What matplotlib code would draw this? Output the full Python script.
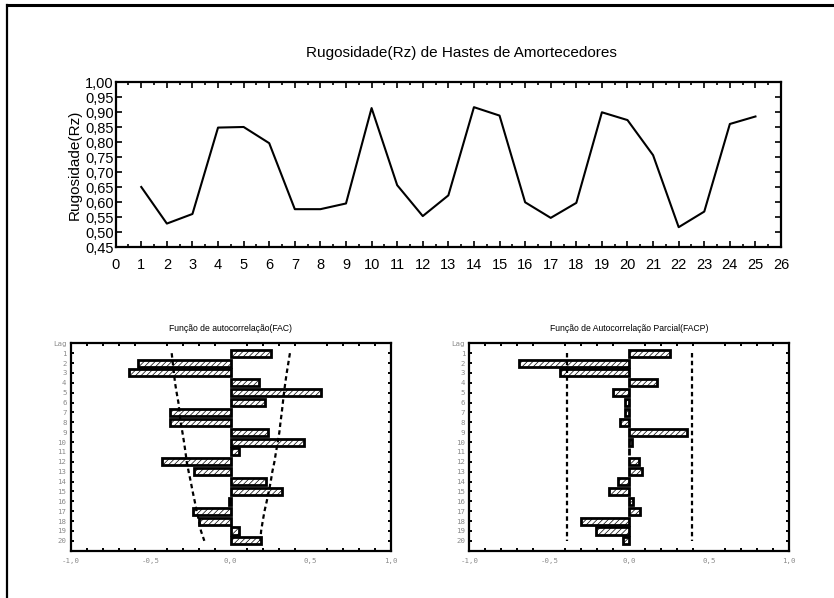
import matplotlib
matplotlib.use('Agg')
import matplotlib.pyplot as plt
from matplotlib.lines import Line2D
from matplotlib.ticker import MultipleLocator, FuncFormatter

# Rugosidade (Rz) medida em 25 hastes
amostra = list(range(1, 26))
rz = [0.651, 0.529, 0.561, 0.849, 0.851, 0.797, 0.577, 0.577, 0.596, 0.914,
      0.657, 0.554, 0.623, 0.917, 0.889, 0.600, 0.548, 0.598, 0.900, 0.874,
      0.757, 0.517, 0.569, 0.861, 0.886]

# Autocorrelação (FAC) e autocorrelação parcial (FACP), lags 1..20
lags = list(range(1, 21))
fac = [0.250, -0.577, -0.633, 0.179, 0.562, 0.212, -0.377, -0.377, 0.233, 0.456,
       0.050, -0.429, -0.227, 0.221, 0.319, -0.010, -0.237, -0.196, 0.050, 0.187]
fac_lim_sup = [0.370, 0.360, 0.350, 0.341, 0.333, 0.326, 0.319, 0.311, 0.304, 0.294,
               0.283, 0.273, 0.260, 0.250, 0.238, 0.225, 0.211, 0.200, 0.190, 0.185]
fac_lim_inf = [-0.369, -0.362, -0.355, -0.348, -0.338, -0.327, -0.320, -0.313, -0.302, -0.292,
               -0.283, -0.275, -0.263, -0.250, -0.238, -0.225, -0.213, -0.198, -0.186, -0.165]
facp = [0.252, -0.690, -0.431, 0.175, -0.102, -0.027, -0.025, -0.056, 0.358, 0.015,
        -0.004, 0.058, 0.081, -0.071, -0.125, 0.025, 0.069, -0.304, -0.208, -0.037]
facp_lim = 0.392

lag_labels = ['Lag'] + [str(l) for l in lags]
corr_ticks = [-1.0, -0.5, 0.0, 0.5, 1.0]
corr_labels = ['-1,0', '-0,5', '0,0', '0,5', '1,0']

plt.rcParams['font.family'] = ['Liberation Sans', 'DejaVu Sans']
plt.rcParams['hatch.linewidth'] = 0.5

fig = plt.figure(figsize=(8.34, 5.98), dpi=100)

# moldura da página
fig.add_artist(Line2D([7 / 834, 1.0], [1 - 5 / 598, 1 - 5 / 598], color='black', lw=2.2,
                      transform=fig.transFigure))
fig.add_artist(Line2D([7 / 834, 7 / 834], [0.0, 1 - 5 / 598], color='black', lw=1.6,
                      transform=fig.transFigure))

# --- gráfico da série ---
ax = fig.add_axes([0.1387, 0.5865, 0.7978, 0.2759])
ax.plot(amostra, rz, color='black', lw=1.5)
ax.set_xlim(0, 26)
ax.set_ylim(0.45, 1.00)
ax.xaxis.set_major_locator(MultipleLocator(1))
ax.xaxis.set_minor_locator(MultipleLocator(0.5))
ax.yaxis.set_major_locator(MultipleLocator(0.05))
ax.yaxis.set_major_formatter(FuncFormatter(lambda v, p: f'{v:.2f}'.replace('.', ',')))
ax.tick_params(which='both', direction='in', top=True, right=True, width=1.2, colors='black')
ax.tick_params(which='major', length=4, labelsize=10.5)
ax.tick_params(which='minor', length=2.5)
ax.tick_params(axis='x', pad=8)
ax.tick_params(axis='y', pad=1.5)
for s in ax.spines.values():
    s.set_linewidth(1.6)
ax.set_title('Rugosidade(Rz) de Hastes de Amortecedores', fontsize=11, pad=18, x=0.52)
ax.set_ylabel('Rugosidade(Rz)', fontsize=11, labelpad=2)


def correlograma(ax, valores, titulo):
    ax.barh(lags, valores, height=0.72, color='white', edgecolor='black', lw=2.0,
            hatch='//////', zorder=2)
    ax.set_xlim(-1, 1)
    ax.set_ylim(21, 0)
    ax.set_yticks([0] + lags)
    ax.set_yticklabels(lag_labels)
    ax.set_xticks(corr_ticks)
    ax.set_xticklabels(corr_labels)
    ax.xaxis.set_minor_locator(MultipleLocator(0.1))
    ax.tick_params(which='both', direction='in', top=True, right=True, width=1.4,
                   length=2.5, colors='black', labelcolor='#8a8a8a')
    ax.tick_params(axis='x', which='major', length=0)
    ax.tick_params(axis='x', pad=5)
    ax.tick_params(axis='y', pad=3)
    for lab in ax.get_xticklabels() + ax.get_yticklabels():
        lab.set_fontfamily('DejaVu Sans Mono')
        lab.set_fontsize(5.3)
    for s in ax.spines.values():
        s.set_linewidth(1.6)
    ax.set_title(titulo, fontsize=6.2, pad=9)


ax1 = fig.add_axes([0.0848, 0.0791, 0.3837, 0.3468])
correlograma(ax1, fac, 'Função de autocorrelação(FAC)')
ax1.plot(fac_lim_sup, lags, color='black', lw=1.6, ls=(0, (2, 1.5)), zorder=3)
ax1.plot(fac_lim_inf, lags, color='black', lw=1.6, ls=(0, (2, 1.5)), zorder=3)

ax2 = fig.add_axes([0.5627, 0.0791, 0.3837, 0.3468])
correlograma(ax2, facp, 'Função de Autocorrelação Parcial(FACP)')
ax2.plot([facp_lim] * len(lags), lags, color='black', lw=1.6, ls=(0, (2, 1.5)), zorder=3)
ax2.plot([-facp_lim] * len(lags), lags, color='black', lw=1.6, ls=(0, (2, 1.5)), zorder=3)

fig.savefig('out.png', dpi=100)
